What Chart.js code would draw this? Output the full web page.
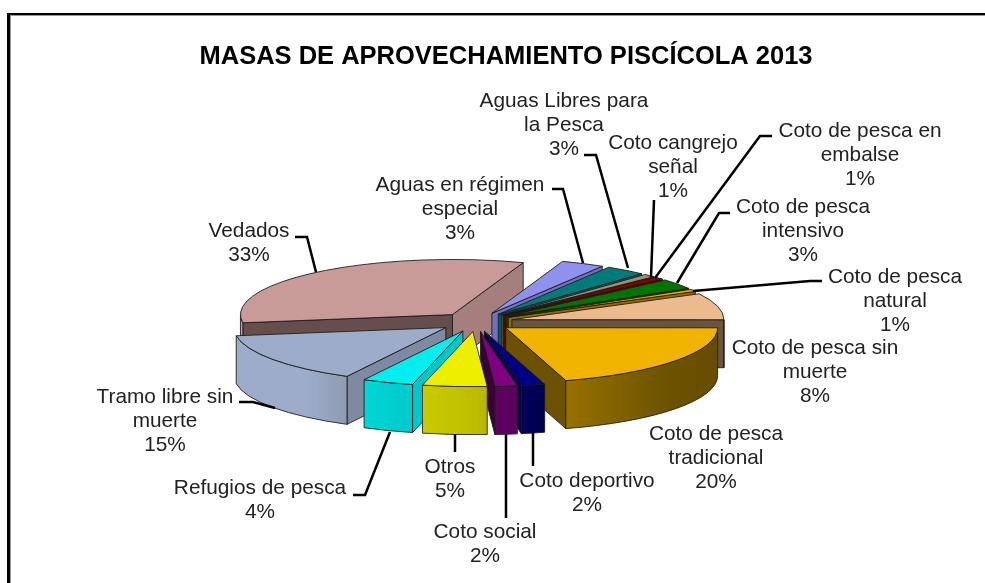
<!DOCTYPE html>
<html>
<head>
<meta charset="utf-8">
<script src="https://cdn.jsdelivr.net/npm/chart.js@4"></script>
<style>
html,body{margin:0;padding:0;background:#fff;overflow:hidden}
#stage{position:relative;width:985px;height:583px;background:#fff}
#frame{position:absolute;left:7px;top:13px;right:-5px;bottom:-5px;border-left:3px solid #000;border-top:2px solid #000;box-shadow:inset 1px 1px 0 #999}
canvas{position:absolute;left:0;top:0}
</style>
</head>
<body>
<div id="stage"><div id="frame"></div><canvas id="c" width="985" height="583"></canvas></div>
<script>
const chartTitle = 'MASAS DE APROVECHAMIENTO PISCÍCOLA 2013';
const categories = ['Aguas en régimen especial','Aguas Libres para la Pesca','Coto cangrejo señal','Coto de pesca en embalse','Coto de pesca intensivo','Coto de pesca natural','Coto de pesca sin muerte','Coto de pesca tradicional','Coto deportivo','Coto social','Otros','Refugios de pesca','Tramo libre sin muerte','Vedados'];
const percentages = [3.3,3.1,0.9,0.8,3.0,0.7,7.8,20.4,1.8,1.7,4.9,3.9,14.9,32.8];
const sliceColors = ['#9090ee','#007b7b','#a09070','#860000','#007400','#f0a000','#ebbb8d','#f0b400','#000080','#800080','#eeee00','#00eeee','#9dacc8','#c89a98'];
const labelLines = [['Aguas en régimen','especial'],['Aguas Libres para','la Pesca'],['Coto cangrejo','señal'],['Coto de pesca en','embalse'],['Coto de pesca','intensivo'],['Coto de pesca','natural'],['Coto de pesca sin','muerte'],['Coto de pesca','tradicional'],['Coto deportivo'],['Coto social'],['Otros'],['Refugios de pesca'],['Tramo libre sin','muerte'],['Vedados']];
const labelAnchors = [[460,191],[564,107],[673,149],[860,137],[803,213],[895,283],[815,354],[716,440],[587,487],[485,538],[450,473],[260,494],[165,403],[249,237]];
const leaderLines = [
  [[552,189],[563,189],[583,263]],
  [[584,155],[596,155],[628,268]],
  [[654,200],[651,277]],
  [[772,136],[760,136],[655,278]],
  [[730,213],[719,213],[677,283]],
  [[822,281],[810,281],[693,291]],
  [],
  [],
  [[533,432],[533,466]],
  [[506,434],[506,518]],
  [[455,434],[455,452]],
  [[353,495],[365,495],[390,432]],
  [[239,402],[253,402],[275,408]],
  [[295,237],[307,237],[316,272]]
];
const paintOrder = [13,0,1,2,3,4,5,6,7,12,11,8,9,10];
const firstSliceAngle = 19.5;
const pieRadius = 212;

function rgb(hex){return [1,3,5].map(i=>parseInt(hex.substr(i,2),16));}
function shade(hex,f){const c=rgb(hex).map(v=>Math.min(255,Math.round(v*f)));return `rgb(${c[0]},${c[1]},${c[2]})`;}
// brightness of the rim as a function of its facing angle in canvas radians
function rimShade(t){
  const d=((t%(2*Math.PI))+2*Math.PI)%(2*Math.PI)*180/Math.PI;
  const pts=[[0,.42],[40,.45],[70,.6],[90,.8],[118,.9],[130,1],[180,1]];
  for(let i=1;i<pts.length;i++){ if(d<=pts[i][0]){const a=pts[i-1],b=pts[i];return a[1]+(b[1]-a[1])*(d-a[0])/(b[0]-a[0]);} }
  return 1;
}

const pie3d = {
  id:'pie3d',
  beforeDatasetDraw(chart,args,o){
    const ctx=chart.ctx, meta=args.meta, line='rgba(25,25,25,.85)';
    const trace=(pts)=>{ctx.beginPath();pts.forEach((p,i)=>i?ctx.lineTo(p[0],p[1]):ctx.moveTo(p[0],p[1]));ctx.closePath();};
    paintOrder.forEach(i=>{
      const arc=meta.data[i], col=sliceColors[i], R=arc.outerRadius;
      const a0=arc.startAngle,a1=arc.endAngle,mid=(a0+a1)/2;
      const ox=o.cx+Math.cos(mid)*o.explode, oy=o.cy+Math.sin(mid)*o.explode*o.tilt;
      const at=t=>[ox+R*Math.cos(t),oy+R*Math.sin(t)*o.tilt];
      const face=(t,normal)=>{
        const p=at(t);
        trace([[ox,oy],p,[p[0],p[1]+o.depth],[ox,oy+o.depth]]);
        ctx.fillStyle=shade(col,.45+.4*Math.max(0,Math.cos(normal)));
        ctx.fill();ctx.strokeStyle=line;ctx.lineWidth=1;ctx.stroke();
      };
      if(-Math.cos(a0)>0) face(a0,a0-Math.PI/2);
      if(Math.cos(a1)>0) face(a1,a1+Math.PI/2);
      for(let k=-1;k<=1;k++){
        const lo=Math.max(a0,2*Math.PI*k),hi=Math.min(a1,2*Math.PI*k+Math.PI);
        if(hi<=lo) continue;
        const pL=at(hi),pR=at(lo);
        const x0=Math.min(pL[0],pR[0]),w=Math.abs(pL[0]-pR[0])||1;
        const grad=ctx.createLinearGradient(x0,0,x0+w,0);
        for(let s=0;s<=8;s++){const t=lo+(hi-lo)*s/8,x=at(t)[0];grad.addColorStop(Math.min(1,Math.max(0,(x-x0)/w)),shade(col,rimShade(t)));}
        ctx.beginPath();
        ctx.ellipse(ox,oy,R,R*o.tilt,0,lo,hi,false);
        ctx.ellipse(ox,oy+o.depth,R,R*o.tilt,0,hi,lo,true);
        ctx.closePath();
        ctx.fillStyle=grad;ctx.fill();ctx.strokeStyle=line;ctx.lineWidth=1;ctx.stroke();
      }
      ctx.save();
      ctx.translate(ox,oy);ctx.scale(1,o.tilt);ctx.translate(-arc.x,-arc.y);
      arc.draw(ctx);
      ctx.restore();
      ctx.beginPath();
      ctx.moveTo(ox,oy);
      ctx.ellipse(ox,oy,R,R*o.tilt,0,a0,a1,false);
      ctx.closePath();
      ctx.strokeStyle=line;ctx.lineWidth=1;ctx.stroke();
    });
    return false;
  },
  afterDatasetsDraw(chart){
    const ctx=chart.ctx;
    ctx.save();
    ctx.strokeStyle='#000';ctx.lineWidth=2.5;ctx.lineJoin='miter';
    leaderLines.forEach(l=>{ if(!l.length) return; ctx.beginPath();l.forEach((p,i)=>i?ctx.lineTo(p[0],p[1]):ctx.moveTo(p[0],p[1]));ctx.stroke();});
    ctx.fillStyle='#222';ctx.font='20.8px "Liberation Sans"';ctx.textAlign='center';ctx.textBaseline='alphabetic';
    labelLines.forEach((lines,i)=>{
      const a=labelAnchors[i];
      [...lines,Math.round(percentages[i])+'%'].forEach((t,j)=>ctx.fillText(t,a[0],a[1]+j*24));
    });
    ctx.restore();
  }
};

new Chart(document.getElementById('c'),{
  type:'pie',
  data:{labels:categories,datasets:[{data:percentages,backgroundColor:sliceColors,borderWidth:0,hoverOffset:0}]},
  options:{
    responsive:false,animation:false,rotation:firstSliceAngle,radius:pieRadius,
    layout:{padding:{left:27,top:0,right:0,bottom:0}},
    plugins:{
      legend:{display:false},tooltip:{enabled:false},
      title:{display:true,text:chartTitle,color:'#000',font:{family:'"Liberation Sans"',size:25.5,weight:'bold'},padding:{top:42,bottom:10}},
      pie3d:{cx:476,cy:322,tilt:.26,depth:48,explode:37}
    }
  },
  plugins:[pie3d]
});
</script>
</body>
</html>
